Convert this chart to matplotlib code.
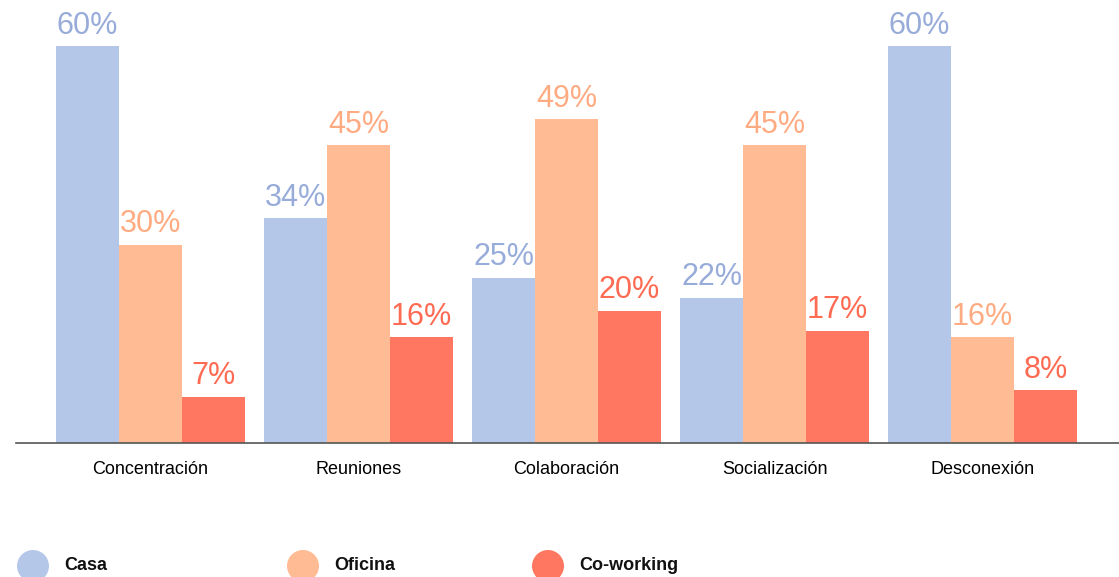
import numpy as np
import matplotlib.pyplot as plt
from matplotlib.patches import Ellipse

plt.rcParams['font.family'] = ['Liberation Sans', 'DejaVu Sans']

categories = ['Concentración', 'Reuniones', 'Colaboración', 'Socialización', 'Desconexión']
series_names = ['Casa', 'Oficina', 'Co-working']
casa = [60, 34, 25, 22, 60]
oficina = [30, 45, 49, 45, 16]
coworking = [7, 16, 20, 17, 8]

bar_colors = ['#b5c7e8', '#ffbb94', '#ff7761']
label_colors = ['#98acda', '#ffab82', '#ff6a52']

fig = plt.figure(figsize=(11.19, 5.77), dpi=100)
ax = fig.add_axes([16/1119, 134/577, 1103/1119, 443/577])

x = np.arange(len(categories))
w = 0.303
for i, (vals, name) in enumerate(zip([casa, oficina, coworking], series_names)):
    pos = x + (i - 1) * w
    ax.bar(pos, vals, width=w, color=bar_colors[i], linewidth=0)
    for px, v in zip(pos, vals):
        ax.text(px, v + 0.8, f'{v}%', ha='center', va='bottom',
                fontsize=22, color=label_colors[i])

ax.set_xlim(-0.647, 4.656)
ax.set_ylim(0, 67)
ax.set_xticks(x)
ax.set_xticklabels(categories, fontsize=13)
ax.tick_params(axis='x', length=0, pad=13)
ax.set_yticks([])
for s in ['top', 'right', 'left']:
    ax.spines[s].set_visible(False)
ax.spines['bottom'].set_color('#555555')
ax.spines['bottom'].set_linewidth(1.2)

# legend at the bottom
leg_x = [33, 303, 548]
for i, name in enumerate(series_names):
    cx = leg_x[i] / 1119
    cy = 1 - 566 / 577
    fig.patches.append(Ellipse((cx, cy), 32/1119, 32/577, transform=fig.transFigure,
                               color=bar_colors[i], linewidth=0))
    fig.text(cx + 31/1119, cy + 1/577, name, fontsize=13, fontweight='bold',
             va='center', ha='left', color='#111111')

fig.savefig('out.png', dpi=100)
